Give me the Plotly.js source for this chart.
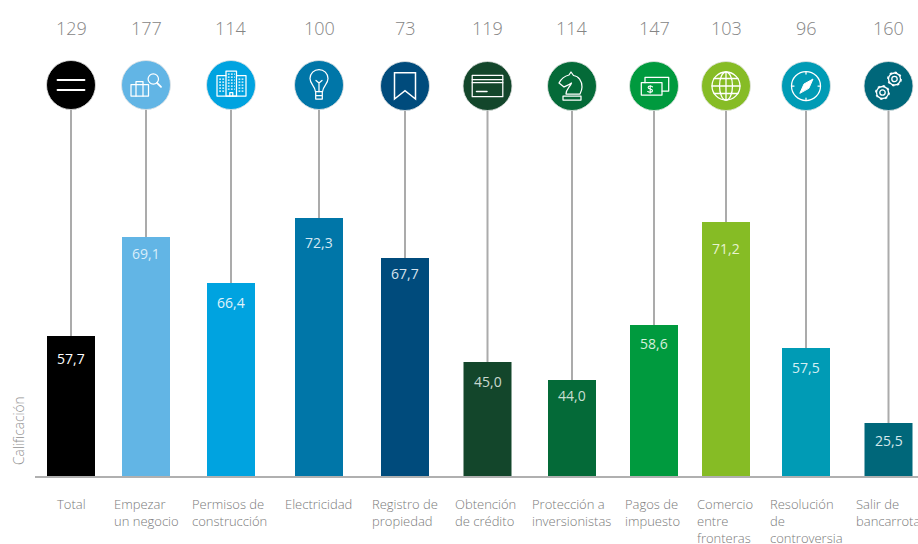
<!DOCTYPE html>
<html><head><meta charset="utf-8">
<script src="https://cdn.plot.ly/plotly-3.0.1.min.js"></script>
<style>html,body{margin:0;padding:0;background:#fff;overflow:hidden}#c{width:918px;height:544px}</style>
</head><body><div id="c"></div>
<script>
// Data
const categories = ['Total','Empezar<br>un negocio','Permisos de<br>construcción','Electricidad','Registro de<br>propiedad','Obtención<br>de crédito','Protección a<br>inversionistas','Pagos de<br>impuesto','Comercio<br>entre<br>fronteras','Resolución<br>de<br>controversia','Salir de<br>bancarrota'];
const rankings = ['129','177','114','100','73','119','114','147','103','96','160'];
const scoreLabels = ['57,7','69,1','66,4','72,3','67,7','45,0','44,0','58,6','71,2','57,5','25,5'];
// the drawn bar heights in the source are not proportional to the printed scores
const barLevels = [141,240,194,259,219,115,97,152,255,129,54];
const slots = [71,146,231,319,405,487.5,572,654,726,806,888.5];
const colors = ['#000000','#62b5e5','#00a3e0','#0076a8','#004b7c','#13462b','#046a38','#009a3e','#86bc25','#009bb5','#00677a'];
const labelLeft = [55.5,112.5,191,284,370.5,453.5,530.5,624,696,769,855];
const labelDrop = [22,16,19,24,15,19,15,18,26,19,17];
const labelColors = ['#fff','#d8eefa','#e0f4fb','#d5e8f2','#d5e2ec','#c9d8cf','#c9dfd2','#d5efdc','#e8f3d0','#d5eff3','#d5e8ec'];

const S = (w=1.25) => `fill="none" stroke="#fff" stroke-width="${w}" stroke-linejoin="round" stroke-linecap="round"`;
const gear = (cx,cy) => {
  let t='';
  for(let a=0;a<8;a++){const r=a*Math.PI/4+0.2;
    t+=`<line x1="${cx+5.8*Math.cos(r)}" y1="${cy+5.8*Math.sin(r)}" x2="${cx+7.4*Math.cos(r)}" y2="${cy+7.4*Math.sin(r)}" stroke-width="2.4" stroke-linecap="butt"/>`;}
  return `<g ${S(1.3)}><circle cx="${cx}" cy="${cy}" r="6"/><circle cx="${cx}" cy="${cy}" r="2.7"/>${t}</g>`;
};
const iconShapes = [
 `<g ${S(1.8)}><line x1="-13.5" y1="-5" x2="13.5" y2="-5"/><line x1="-13.5" y1="5" x2="13.5" y2="5"/></g>`,
 `<g ${S()}><rect x="-15" y="-0.5" width="17.5" height="11.5"/><path d="M-10-.5v-3h7v3M-10-.5v11.5M-3-.5v11.5"/><circle cx="7.3" cy="-6" r="5.2"/><line x1="11" y1="-2.2" x2="15" y2="1.8" stroke-width="1.8"/></g>`,
 `<g ${S()}><path d="M-5-9.500H-14V11H15V-9.500H5.500"/><rect x="-5" y="-14" width="10.500" height="25"/><path stroke-dasharray="1.800 1.300" stroke-linecap="butt" d="M-3.200-11h7M-3.200-8h7M-3.200-5h7M-3.200-2h7M-3.200 1h7M-3.200 4h7M-11.800-6h5M-11.800-3h5M-11.800 0h5M-11.800 3h5M-11.800 6h5M7.500-6h5.500M7.500-3h5.500M7.500 0h5.500M7.500 3h5.500M7.500 6h5.500"/><path d="M-1.200 11V7.500h3V11"/></g>`,
 `<g ${S()}><path d="M-3.500 6.700C-4 1-9-1-9-6.500A9 9 0 0 1 9-6.500C9-1 4 1 3.500 6.700z"/><path d="M-3-4.500L0-2 3-4.500M0-2V6.700"/><path d="M-3.300 6.700V14H3.300V6.700M-3.300 10.500H3.300"/></g>`,
 `<path d="M-10.500-13.300H10.500V13L0 4.700-10.500 13z" fill="none" stroke="#fff" stroke-width="1.5" stroke-linejoin="miter"/>`,
 `<g ${S()}><rect x="-15.300" y="-10.700" width="30.600" height="21.400"/><line x1="-15.300" y1="-6.500" x2="15.300" y2="-6.500"/><line x1="-15.300" y1="-3.300" x2="15.300" y2="-3.300"/><line x1="-11" y1="5.500" x2="-0.500" y2="5.500" stroke-width="1.500"/></g>`,
 `<g ${S()}><path d="M-1-14L1.500-10.500C6.500-10 10-5 10 1C10 4 9 6 8 8H-6C-6 3-2 1-.5-3C-3-1-6 0-8 1L-13-3C-11-7-7-10-3-11z"/><path d="M-9 10H9V14H-9z"/></g>`,
 `<g ${S()}><rect x="-12.700" y="-3.300" width="20.700" height="12.300"/><path d="M-9-3.300V-8.700H14.700V5H8"/><path d="M-6.300 5.500c1.500 1 4.800 1 4.800-.8 0-2.200-4.400-1.100-4.400-3.200 0-1.800 3.200-1.800 4.400-.6M-3.800-.5V7" stroke-width="1.100"/></g>`,
 `<g ${S(1.3)}><circle r="14"/><ellipse rx="6.500" ry="14"/><line x1="0" y1="-14" x2="0" y2="14"/><line x1="-14" y1="0" x2="14" y2="0"/><path d="M-12-7.500H12M-12 7.500H12"/></g>`,
 `<g ${S()}><circle r="14.500"/><path d="M-6 7L-2-2 7-7 3 2z" fill="#fff" stroke-width="1"/><path d="M0-14.500v2.500M0 14.500v-2.500M-14.500 0h2.500M14.500 0h-2.500"/></g>`,
 gear(6,-7)+gear(-6,6.500)
];
const px = v => 477 - v;
const circleLevels = [392,392,392,392,391,391,391,391,391,391,391];

const bars = {type:'bar',x:slots,y:barLevels,width:48,marker:{color:colors,line:{width:0}},hoverinfo:'skip'};
const stems = {type:'scatter',mode:'lines',hoverinfo:'skip',
  x:slots.flatMap(s=>[s,s,null]),
  y:slots.flatMap((s,i)=>[circleLevels[i],barLevels[i],null]),
  line:{color:'#ababab',width:2}};
const circles = {type:'scatter',mode:'markers',x:slots,y:circleLevels,hoverinfo:'skip',
  marker:{size:49,color:colors,line:{width:0.8,color:'#e4e4e4'}}};

const FONT='"Open Sans", sans-serif';
const annotations = [];
slots.forEach((s,i)=>{
  annotations.push({x:s,y:px(27.5),xref:'x',yref:'y',text:rankings[i],showarrow:false,xanchor:'center',yanchor:'middle',
    font:{family:FONT,size:18,color:'#858585',weight:300}});
  annotations.push({x:s,y:barLevels[i]-labelDrop[i],xref:'x',yref:'y',text:scoreLabels[i],showarrow:false,xanchor:'center',yanchor:'middle',
    font:{family:FONT,size:14,color:labelColors[i]}});
  annotations.push({x:labelLeft[i],y:px(493.5),xref:'x',yref:'y',text:categories[i],showarrow:false,xanchor:'left',yanchor:'top',align:'left',
    borderpad:0,font:{family:FONT,size:13,color:'#7a7a7a',weight:300}});
});
annotations.push({x:18,y:px(431),xref:'x',yref:'y',text:'Calificación',textangle:-90,showarrow:false,xanchor:'center',yanchor:'middle',
  font:{family:FONT,size:13.7,color:'#8f8f8f',weight:300}});

const images = iconShapes.map((g,i)=>({
  source:'data:image/svg+xml;charset=utf-8,'+encodeURIComponent(`<svg xmlns="http://www.w3.org/2000/svg" width="44" height="44" viewBox="-22 -22 44 44">${g}</svg>`),
  xref:'x',yref:'y',x:slots[i]-22,y:circleLevels[i]+22,sizex:44,sizey:44,sizing:'stretch',xanchor:'left',yanchor:'top',layer:'above'
}));

const layout = {
  width:918,height:544,margin:{l:0,r:0,t:0,b:0,pad:0},showlegend:false,
  paper_bgcolor:'#fff',plot_bgcolor:'#fff',
  xaxis:{range:[0,918],visible:false,fixedrange:true},
  yaxis:{range:[-67,477],visible:false,fixedrange:true},
  shapes:[{type:'line',xref:'x',yref:'y',x0:35,x1:918,y0:0,y1:0,line:{color:'#b0b0b0',width:2},layer:'above'}],
  annotations,images
};
Plotly.newPlot('c',[bars,stems,circles],layout,{displayModeBar:false,staticPlot:true});
</script></body></html>
